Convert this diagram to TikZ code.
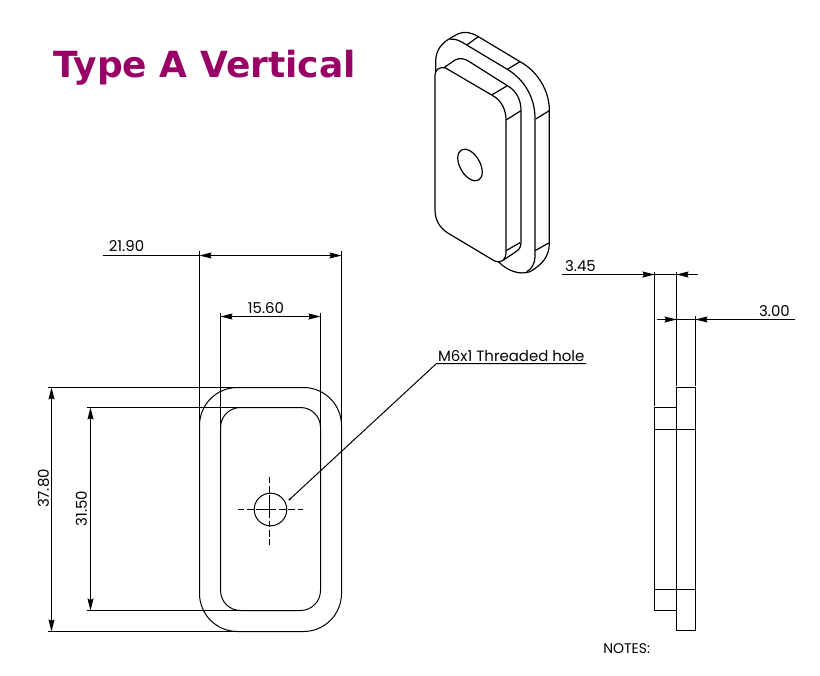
\documentclass[tikz,border=0pt]{standalone}
\usepackage{fontspec}
\setmainfont{Poppins}
\newfontfamily\titlefont{DejaVu Sans}
\usetikzlibrary{arrows.meta}
\definecolor{titlepurple}{HTML}{990066}
\tikzset{
    part/.style={line width=.75pt},
    isoline/.style={line width=.9pt},
    dimline/.style={line width=.75pt, {Stealth[length=9pt,width=4.5pt,inset=1pt]}-{Stealth[length=9pt,width=4.5pt,inset=1pt]}},
    dimout/.style={line width=.75pt, -{Stealth[length=9pt,width=4.5pt,inset=1pt]}},
    extline/.style={line width=.75pt},
    dimtext/.style={font=\fontsize{11.2}{13}\selectfont, inner sep=0pt},
}
\begin{document}
\begin{tikzpicture}[x=.75pt,y=-.75pt]
    \useasboundingbox (0,0) rectangle (820,675);
    \node[anchor=base west, inner sep=0pt, text=titlepurple, font=\titlefont\bfseries\fontsize{27}{30}\selectfont] (title) at (53,77) {Type A Vertical};

    \begin{scope}[shift={(.5,.5)}]
    % front view
    \draw[part, rounded corners=28.5pt] (199,387) rectangle (341,631);
    \draw[part, rounded corners=15pt] (220,407) rectangle (320,610);
    \draw[part] (270,509) circle (16.3);
    \draw[extline, dash pattern=on 5pt off 2pt on 5pt off 2pt on 15pt off 2pt on 5pt off 2pt on 5pt off 2pt] (237,509) -- (302,509);
    \draw[extline, dash pattern=on 5pt off 2pt on 5pt off 2pt on 17pt off 2pt on 5pt off 2pt on 5pt off 2pt] (269,476) -- (269,544);

    % dimensions of the front view
    \draw[extline] (199,250) -- (199,425);
    \draw[extline] (341,250) -- (341,425);
    \draw[extline] (220,312) -- (220,425);
    \draw[extline] (320,312) -- (320,425);
    \draw[extline] (47,387) -- (235,387);
    \draw[extline] (47,631) -- (235,631);
    \draw[extline] (86,407) -- (238,407);
    \draw[extline] (86,610) -- (238,610);
    \draw[dimline] (199,255) -- (341,255);
    \draw[extline] (102,255) -- (199,255);
    \draw[dimline] (220,316) -- (320,316);
    \draw[dimline] (51,387) -- (51,631);
    \draw[dimline] (90,407) -- (90,610);
    \node[dimtext] (width outer) at (126,246) {21.90};
    \node[dimtext] (width inner) at (265.5,308) {15.60};
    \node[dimtext, rotate=90] (height outer) at (43,488) {37.80};
    \node[dimtext, rotate=90] (height inner) at (81,508) {31.50};

    % hole callout
    \node[dimtext, anchor=south west, inner sep=1pt] (hole label) at (436,363) {M6x1 Threaded hole};
    \coordinate (hole tip) at (289,499);
    \draw[extline] (hole tip) -- (hole label.south west) -- (hole label.south east);
    \fill (hole tip) circle (1.2);

    % side view
    \draw[part] (676,387) rectangle (695,630);
    \draw[part] (654,407) rectangle (676,610);
    \draw[part] (654,429) -- (695,429);
    \draw[part] (654,589) -- (695,589);
    \draw[extline] (654,271) -- (654,405);
    \draw[extline] (676,271) -- (676,385);
    \draw[extline] (695,315) -- (695,385);
    \draw[extline] (561,274) -- (697,274);
    \draw[dimout] (642,274) -- (654,274);
    \draw[dimout] (688,274) -- (676,274);
    \draw[extline] (656,319) -- (794,319);
    \draw[dimout] (664,319) -- (676,319);
    \draw[dimout] (707,319) -- (695,319);
    \node[dimtext] (depth boss) at (580,266) {3.45};
    \node[dimtext] (depth plate) at (774,311) {3.00};
    \end{scope}

    % isometric view
    \begin{scope}[shift={(420,20)},x=.25pt,y=-.25pt]
        \draw[isoline] (45,165) .. controls (45,150) and (58,140) .. (75,143) -- (215,225) .. controls (245,240) and (258,270) .. (258,300) -- (258,695) .. controls (258,720) and (245,732) .. (222,722) -- (85,640) .. controls (60,625) and (45,600) .. (45,570) -- cycle;
        \draw[isoline] (47,155) -- (47,125) .. controls (47,90) and (65,70) .. (90,55) -- (115,41) .. controls (135,33) and (155,38) .. (175,50) -- (300,125) .. controls (355,155) and (388,215) .. (388,270) -- (388,670) .. controls (388,710) and (365,735) .. (330,755) .. controls (300,765) and (265,755) .. (235,725);
        \draw[isoline] (90,58) .. controls (105,55) and (120,62) .. (140,75) -- (262,148) .. controls (315,180) and (345,235) .. (345,295) -- (345,710) .. controls (345,730) and (335,747) .. (320,755);
        \draw[isoline] (72,143) -- (105,120) .. controls (118,113) and (135,115) .. (148,125) -- (262,197) .. controls (290,213) and (303,240) .. (303,272) -- (303,668) .. controls (303,685) and (295,690) .. (285,697) -- (250,720);
        \draw[isoline] (140,75) -- (175,50);
        \draw[isoline] (262,148) -- (300,125);
        \draw[isoline] (347,297) -- (388,272);
        \draw[isoline] (345,692) -- (388,668);
        \draw[isoline] (215,225) -- (262,197);
        \draw[isoline] (258,300) -- (303,272);
        \draw[isoline] (258,692) -- (300,668);
        \draw[isoline] (150,435) ellipse [x radius=30, y radius=52, rotate=30];
    \end{scope}

    \node[dimtext, anchor=west, font=\fontsize{10.5}{12}\selectfont] (notes) at (603,649) {NOTES:};
\end{tikzpicture}
\end{document}
